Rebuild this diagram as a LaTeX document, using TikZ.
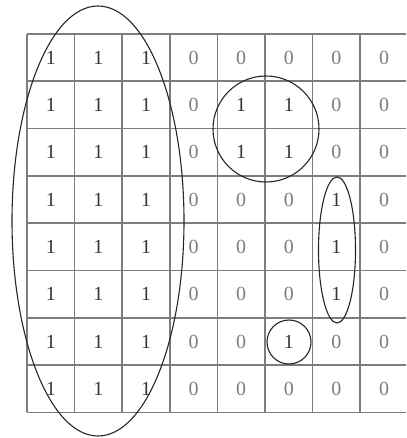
\documentclass[tikz,border=0pt]{standalone}
\usepackage{tikz}
\usepackage{fontspec}
\setmainfont{Liberation Serif}
\definecolor{gridgray}{RGB}{125,125,125}
\definecolor{onegray}{RGB}{55,55,55}
\definecolor{zerogray}{RGB}{125,125,125}
\tikzset{
  gridline/.style={draw=gridgray,line width=1.6pt},
  loop/.style={draw=black!85,line width=1.1pt},
  onecell/.style={text=onegray,font=\fontsize{20}{20}\selectfont,inner sep=0pt},
  zerocell/.style={text=zerogray,font=\fontsize{20}{20}\selectfont,inner sep=0pt},
}
\begin{document}
\begin{tikzpicture}[x=1pt,y=-1pt]
\useasboundingbox[fill=white] (0,0) rectangle (406,438);
% grid
\def\cw{47.6}
\def\rh{47.3}
\foreach \i in {0,...,8} {
  \draw[gridline] (27,{34+\i*\rh}) -- (406,{34+\i*\rh});
}
\foreach \j in {0,...,7} {
  \draw[gridline] ({27+\j*\cw},34) -- ({27+\j*\cw},{34+8*\rh});
}
% cell values
\foreach \row/\vals in {1/{1,1,1,0,0,0,0,0},2/{1,1,1,0,1,1,0,0},3/{1,1,1,0,1,1,0,0},4/{1,1,1,0,0,0,1,0},5/{1,1,1,0,0,0,1,0},6/{1,1,1,0,0,0,1,0},7/{1,1,1,0,0,1,0,0},8/{1,1,1,0,0,0,0,0}} {
  \foreach \v [count=\col] in \vals {
    \ifnum\v=1
      \node[onecell] (c-\row-\col) at ({27+(\col-0.5)*\cw},{34+(\row-0.5)*\rh}) {1};
    \else
      \node[zerocell] (c-\row-\col) at ({27+(\col-0.5)*\cw},{34+(\row-0.5)*\rh}) {0};
    \fi
  }
}
% loops
\draw[loop] (98,221) ellipse [x radius=86, y radius=215];
\draw[loop] (266,129) circle [radius=53];
\draw[loop] (337,250) ellipse [x radius=18.5, y radius=73];
\draw[loop] (289,342) circle [radius=22];
\end{tikzpicture}
\end{document}
